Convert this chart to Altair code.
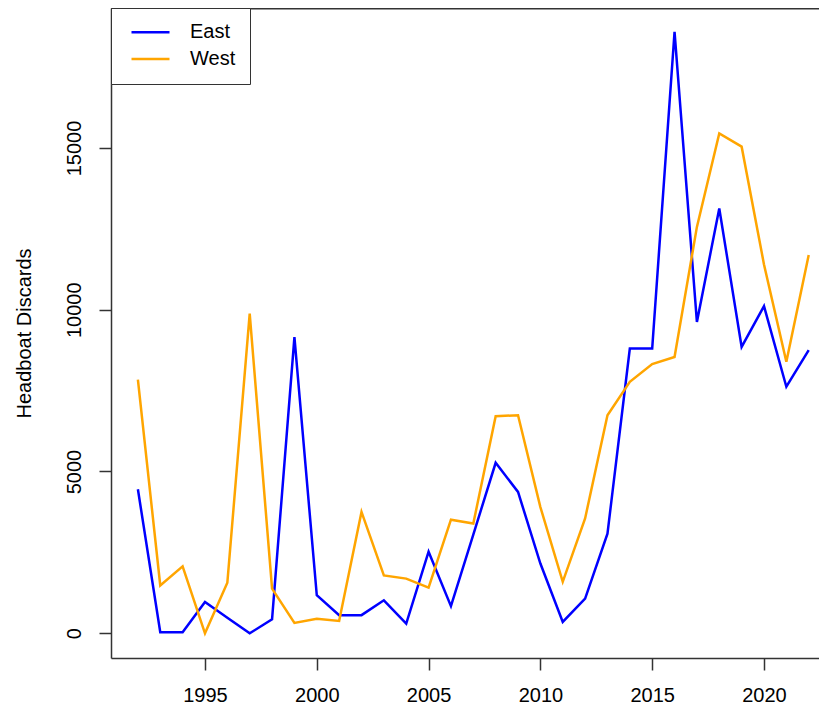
import altair as alt
import pandas as pd

years = list(range(1992, 2023))
east = [4450, 30, 30, 970, 480, 0, 430, 9150, 1175, 560, 560, 1020, 300, 2520,
        840, 3050, 5270, 4370, 2155, 350, 1070, 3080, 8800, 8800, 18590, 9620,
        13130, 8850, 10110, 7620, 8750]
west = [7840, 1480, 2070, 0, 1560, 9880, 1380, 320, 450, 380, 3750, 1790, 1690,
        1410, 3510, 3390, 6710, 6740, 3900, 1590, 3550, 6740, 7770, 8320, 8540,
        12560, 15450, 15040, 11400, 8390, 11690]
regions = ["East", "West"]
colors = ["#0000FF", "#FFA500"]
x_ticks = [1995, 2000, 2005, 2010, 2015, 2020]
y_ticks = [0, 5000, 10000, 15000]

df = pd.DataFrame({
    "Year": years * 2,
    "Discards": east + west,
    "Region": ["East"] * len(years) + ["West"] * len(years),
})

W, H = 708, 650
FONT = "Liberation Sans"

lines = alt.Chart(df).mark_line(strokeWidth=2.5, clip=True).encode(
    x=alt.X("Year:Q",
            scale=alt.Scale(domain=[1990.797, 2022.46], nice=False, zero=False),
            axis=alt.Axis(values=x_ticks, format="d", title=None, grid=False,
                          tickSize=12, labelPadding=15)),
    y=alt.Y("Discards:Q",
            scale=alt.Scale(domain=[-764, 19325], nice=False, zero=False),
            axis=alt.Axis(values=y_ticks, format="d", title="Headboat Discards",
                          grid=False, labelAngle=-90, labelAlign="center",
                          labelBaseline="alphabetic", labelPadding=19, tickSize=12,
                          titleAngle=-90, titleAlign="center",
                          titleBaseline="alphabetic", titleX=-81, titleY=325)),
    color=alt.Color("Region:N",
                    scale=alt.Scale(domain=regions, range=colors),
                    legend=alt.Legend(title=None, orient="none", legendX=0, legendY=0,
                                      symbolType="stroke", symbolSize=1444,
                                      symbolStrokeWidth=2.5, labelFontSize=20,
                                      strokeColor="#333333", fillColor="white",
                                      padding=14.3, rowPadding=6.7, clipHeight=20,
                                      symbolOffset=4.7, labelOffset=19,
                                      labelColor="black")),
)

top = alt.Chart(pd.DataFrame({"a": [0]})).mark_rule(color="#333333", strokeWidth=1.5).encode(
    x=alt.value(0), x2=alt.value(W), y=alt.value(0.75)
)

chart = alt.layer(lines, top).properties(
    width=W, height=H,
    autosize=alt.AutoSizeParams(type="none"),
    padding={"left": 103, "top": 0, "right": 0, "bottom": 48},
).configure(font=FONT).configure_view(stroke=None).configure_axis(
    domainColor="#333333", domainWidth=1.5, tickColor="#333333", tickWidth=1.5,
    labelFontSize=20, titleFontSize=20, titleFontWeight="normal",
    labelColor="black", titleColor="black", labelFont=FONT, titleFont=FONT,
).configure_legend(labelFont=FONT)

chart.save("out.html", embed_options={"renderer": "svg", "actions": False})
